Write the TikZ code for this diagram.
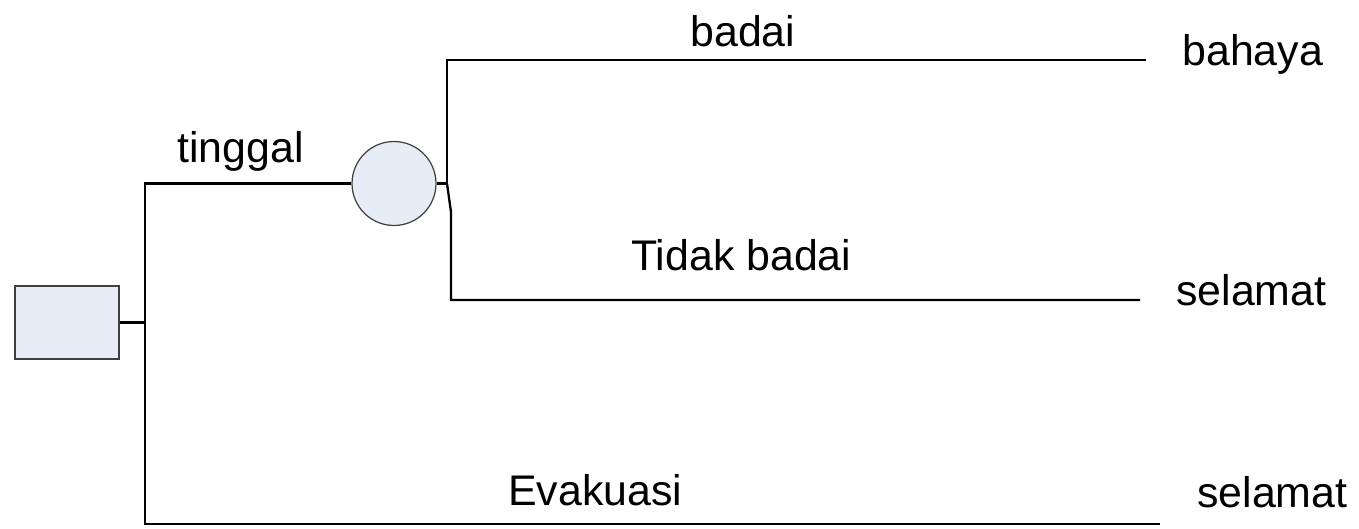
\documentclass[tikz,border=0pt]{standalone}
\usepackage{fontspec}
\setmainfont{Liberation Sans}
\definecolor{nodefill}{HTML}{E6EDF7}
\begin{document}
\begin{tikzpicture}[x=0.02cm,y=-0.02cm,
    lbl/.style={anchor=base west,inner sep=0pt,font=\fontsize{24.4}{29}\selectfont},
    branch/.style={line width=1.3pt},
    shapebox/.style={draw=black!75,line width=0.7pt,fill=nodefill,inner sep=0pt}]
  \useasboundingbox (0,0) rectangle (1359,528);

  % decision and chance nodes
  \node[shapebox,minimum width=2.08cm,minimum height=1.46cm] (keputusan) at (67,322.5) {};
  \node[shapebox,circle,minimum size=1.68cm] (peluang) at (394,183.5) {};

  % end points of the branches
  \coordinate (trunkA) at (145,183.5);
  \coordinate (trunkB) at (145,524);
  \coordinate (fork) at (447,183.5);
  \coordinate (kink) at (451,212);
  \coordinate (endA) at (1146,60);
  \coordinate (endB) at (1140,300);
  \coordinate (endC) at (1160,524);

  \draw[branch] (keputusan.east) -- (keputusan.east -| trunkA);
  \draw[branch] (peluang.west) -- (trunkA) -- (trunkB) -- (endC);
  \draw[branch] (peluang.east) -- (fork) |- (endA);
  \draw[branch] (fork) -- (kink) |- (endB);

  % labels
  \node[lbl] (tinggal) at (177,162) {tinggal};
  \node[lbl] (badai) at (690,46) {badai};
  \node[lbl] (tidak) at (631,270) {Tidak badai};
  \node[lbl] (evakuasi) at (508,505) {Evakuasi};
  \node[lbl] (bahaya) at (1182,65) {bahaya};
  \node[lbl] (selamatA) at (1176,305) {selamat};
  \node[lbl] (selamatB) at (1197,507) {selamat};
\end{tikzpicture}
\end{document}
